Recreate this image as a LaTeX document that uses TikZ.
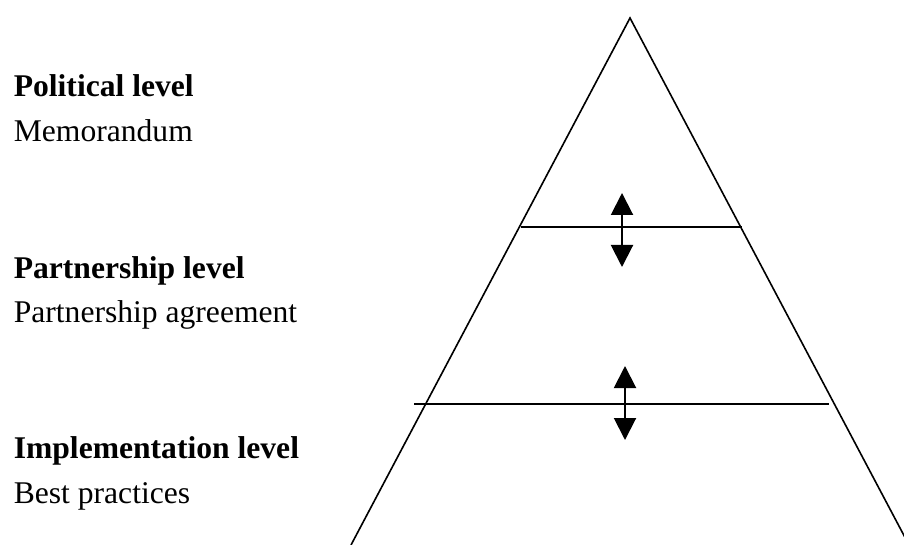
\documentclass[tikz,border=0pt]{standalone}
\usepackage{fontspec}
\setmainfont{Liberation Serif}
\usetikzlibrary{arrows.meta}
\begin{document}
\begin{tikzpicture}[x=1pt,y=-1pt, line width=1.6pt,
  lbl/.style={anchor=base west, inner sep=0pt, font=\fontsize{31.6}{38}\selectfont},
  ttl/.style={lbl, font=\fontsize{31.6}{38}\selectfont\bfseries},
  dbl/.style={{Triangle[width=22pt,length=22pt]}-{Triangle[width=22pt,length=22pt]}, line width=2pt}]
\useasboundingbox (0,0) rectangle (904,545);
\begin{scope}
\clip (0,0) rectangle (904,545);
\coordinate (apex) at (630,18);
\coordinate (bl) at (351,545);
\coordinate (br) at (909,545);
\draw (bl) -- (apex) -- (br);
\end{scope}
\coordinate (h1a) at (521,227);
\coordinate (h1b) at (742,227);
\coordinate (h2a) at (414,404);
\coordinate (h2b) at (829,404);
\draw (h1a) -- (h1b);
\draw (h2a) -- (h2b);
\coordinate (a1t) at (622,193);
\coordinate (a1b) at (622,267);
\coordinate (a2t) at (625,366);
\coordinate (a2b) at (625,440);
\draw[dbl] (a1t) -- (a1b);
\draw[dbl] (a2t) -- (a2b);
\node[ttl] (pol) at (13,97) {Political level};
\node[lbl] (mem) at (13,142) {Memorandum};
\node[ttl] (par) at (13,278) {Partnership level};
\node[lbl] (agr) at (13,322) {Partnership agreement};
\node[ttl] (imp) at (13,458) {Implementation level};
\node[lbl] (bes) at (13,503) {Best practices};
\end{tikzpicture}
\end{document}
